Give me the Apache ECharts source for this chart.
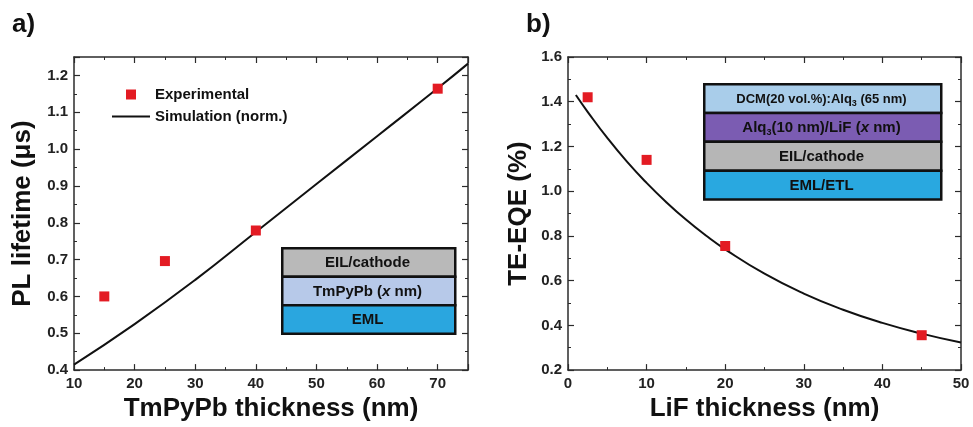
<!DOCTYPE html>
<html><head><meta charset="utf-8">
<script src="https://cdn.jsdelivr.net/npm/echarts@6/dist/echarts.min.js"></script>
<style>html,body{margin:0;padding:0;background:#fff}#c{width:973px;height:427px}</style>
</head><body><div id="c"></div>
<script>
// Panel a) data
const aExpX = [15, 25, 40, 70];
const aExpY = [0.600, 0.696, 0.779, 1.164];
const aSimX = [10, 20, 30, 40, 50, 60, 70, 75];
const aSimY = [0.415, 0.525, 0.645, 0.775, 0.905, 1.035, 1.165, 1.232];
// Panel b) data
const bExpX = [2.5, 10, 20, 45];
const bExpY = [1.42, 1.14, 0.755, 0.356];
const bSimX = [1, 2.5, 5, 7.5, 10, 12.5, 15, 17.5, 20, 25, 30, 35, 40, 45, 50];
const bSimY = [1.43, 1.355, 1.238, 1.132, 1.037, 0.951, 0.873, 0.803, 0.74, 0.631, 0.542, 0.47, 0.411, 0.363, 0.323];
const aInset = ['EIL/cathode', 'TmPyPb ({i|x} nm)', 'EML'];
const bInset = ['DCM(20 vol.%):Alq{sub|3} (65 nm)', 'Alq{sub|3}(10 nm)/LiF ({i|x} nm)', 'EIL/cathode', 'EML/ETL'];

const FONT = 'Liberation Sans, Arial, sans-serif';
const RED = '#e31b23';
const AX = '#2b2b2b';
const zip = (xs, ys) => xs.map((x, i) => [x, ys[i]]);

function fmt(step, dec) {
  return v => {
    const k = v / step;
    return Math.abs(k - Math.round(k)) < 1e-6 ? v.toFixed(dec) : '';
  };
}
function mkX(grid, min, max, interval, pos, name, showLabel) {
  return {
    type: 'value', gridIndex: grid, min, max, interval, position: pos,
    name: showLabel ? name : '', nameLocation: 'middle', nameGap: 22,
    nameTextStyle: { fontFamily: FONT, fontWeight: 'bold', fontSize: 26, color: '#111' },
    axisLine: { show: true, onZero: false, lineStyle: { color: AX, width: 1.5 } },
    axisTick: { show: true, inside: true, length: 6, lineStyle: { color: AX, width: 1.2 } },
    minorTick: { show: true, splitNumber: 2, length: 3, lineStyle: { color: AX, width: 1 } },
    axisLabel: { show: showLabel, fontFamily: FONT, fontWeight: 'bold', fontSize: 15, color: '#222', margin: 6, formatter: fmt(interval, 0) },
    splitLine: { show: false }
  };
}
function mkY(grid, min, max, interval, pos, name, showLabel, gap) {
  return {
    type: 'value', gridIndex: grid, min, max, interval, position: pos,
    name: showLabel ? name : '', nameLocation: 'middle', nameGap: gap,
    nameTextStyle: { fontFamily: FONT, fontWeight: 'bold', fontSize: 26, color: '#111' },
    axisLine: { show: true, onZero: false, lineStyle: { color: AX, width: 1.5 } },
    axisTick: { show: true, inside: true, length: 6, lineStyle: { color: AX, width: 1.2 } },
    minorTick: { show: true, splitNumber: 2, length: 3, lineStyle: { color: AX, width: 1 } },
    axisLabel: { show: showLabel, fontFamily: FONT, fontWeight: 'bold', fontSize: 15, color: '#222', margin: 6, formatter: fmt(interval, 1) },
    splitLine: { show: false }
  };
}

function insetGraphic(x, y, w, rowH, labels, fills, fontSizes) {
  const g = [];
  labels.forEach((t, i) => {
    g.push({
      type: 'rect', left: x, top: y + i * rowH, z: 10,
      shape: { width: w, height: rowH },
      style: { fill: fills[i], stroke: '#111', lineWidth: 2.5 }
    });
    g.push({
      type: 'text', z: 11,
      x: x + w / 2, y: y + i * rowH + rowH / 2 + 2,
      style: {
        text: t, fill: '#111', font: 'bold ' + fontSizes[i] + 'px ' + FONT,
        align: 'center', verticalAlign: 'middle',
        rich: {
          sub: { fontSize: 9, fontWeight: 'bold', fontFamily: FONT, verticalAlign: 'bottom', padding: [8, 0, 0, 0] },
          i: { fontStyle: 'italic', fontWeight: 'bold', fontSize: fontSizes[i], fontFamily: FONT }
        }
      }
    });
  });
  return g;
}

const chart = echarts.init(document.getElementById('c'), null, { renderer: 'canvas' });
chart.setOption({
  backgroundColor: '#fff',
  animation: false,
  grid: [
    { left: 74, top: 57, width: 394, height: 317 },
    { left: 568, top: 57, width: 393, height: 316 }
  ],
  xAxis: [
    mkX(0, 10, 75, 10, 'bottom', 'TmPyPb thickness (nm)', true),
    mkX(0, 10, 75, 10, 'top', '', false),
    mkX(1, 0, 50, 10, 'bottom', 'LiF thickness (nm)', true),
    mkX(1, 0, 50, 10, 'top', '', false)
  ],
  yAxis: [
    mkY(0, 0.4, 1.25, 0.1, 'left', 'PL lifetime (\u03bcs)', true, 38),
    mkY(0, 0.4, 1.25, 0.1, 'right', '', false, 0),
    mkY(1, 0.2, 1.6, 0.2, 'left', 'TE-EQE (%)', true, 36),
    mkY(1, 0.2, 1.6, 0.2, 'right', '', false, 0)
  ],
  legend: [
    { left: 121, top: 82, itemWidth: 10, itemHeight: 10, data: [{ name: 'Experimental', icon: 'rect' }],
      textStyle: { fontFamily: FONT, fontWeight: 'bold', fontSize: 15, color: '#111', padding: [0, 0, 0, 14] } },
    { left: 107, top: 104, itemWidth: 38, itemHeight: 2, data: [{ name: 'Simulation (norm.)', icon: 'rect' }],
      textStyle: { fontFamily: FONT, fontWeight: 'bold', fontSize: 15, color: '#111' } }
  ],
  series: [
    { name: 'Experimental', type: 'scatter', xAxisIndex: 0, yAxisIndex: 0, symbol: 'rect', symbolSize: 10,
      itemStyle: { color: RED, opacity: 1 }, data: zip(aExpX, aExpY), z: 3 },
    { name: 'Simulation (norm.)', type: 'line', xAxisIndex: 0, yAxisIndex: 0, smooth: true, symbol: 'none',
      lineStyle: { color: '#111', width: 2 }, itemStyle: { color: '#111' }, data: zip(aSimX, aSimY), z: 2 },
    { name: 'ExpB', type: 'scatter', xAxisIndex: 2, yAxisIndex: 2, symbol: 'rect', symbolSize: 10,
      itemStyle: { color: RED, opacity: 1 }, data: zip(bExpX, bExpY), z: 3 },
    { name: 'SimB', type: 'line', xAxisIndex: 2, yAxisIndex: 2, smooth: true, symbol: 'none',
      lineStyle: { color: '#111', width: 2 }, data: zip(bSimX, bSimY), z: 2 }
  ],
  graphic: [
    { type: 'text', left: 12, top: 12, style: { text: 'a)', font: 'bold 26px ' + FONT, fill: '#111' } },
    { type: 'text', left: 526, top: 12, style: { text: 'b)', font: 'bold 26px ' + FONT, fill: '#111' } },
    ...insetGraphic(281, 247, 173, 28.5, aInset, ['#b9b9b9', '#b7c9e9', '#2aa6df'], [15, 15, 15]),
    ...insetGraphic(703, 83, 237, 28.8, bInset, ['#a9cdea', '#7b5cb2', '#b6b6b6', '#29a8e0'], [13, 15, 15, 15])
  ]
});
</script>
</body></html>
